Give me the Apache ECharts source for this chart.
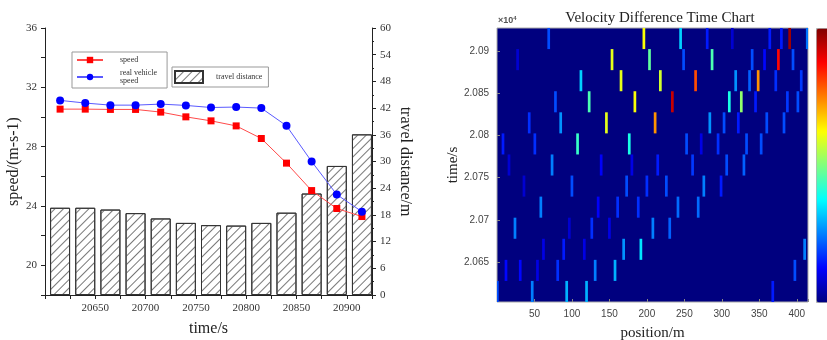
<!DOCTYPE html>
<html>
<head>
<meta charset="utf-8">
<title>Speed, travel distance and velocity difference</title>
<script src="https://cdn.jsdelivr.net/npm/echarts@6.0.0/dist/echarts.min.js"></script>
<style>
  html, body { margin: 0; padding: 0; background: #fff; }
  #chart { width: 827px; height: 340px; }
</style>
</head>
<body>
<div id="chart"></div>
<script>
// sample times (s), shared by both panels
const timePoints = [20615, 20640, 20665, 20690, 20715, 20740, 20765, 20790, 20815, 20840, 20865, 20890, 20915];

// left panel
const speed = [30.53, 30.53, 30.51, 30.51, 30.33, 30.01, 29.74, 29.40, 28.55, 26.89, 25.04, 23.83, 23.29];
const realVehicleSpeed = [31.12, 30.94, 30.80, 30.80, 30.87, 30.78, 30.64, 30.67, 30.60, 29.41, 27.00, 24.77, 23.62];
const travelDistance = [19.6, 19.6, 19.2, 18.4, 17.2, 16.2, 15.7, 15.6, 16.2, 18.5, 22.8, 29.0, 36.1];

// right panel: stripes per time row (same order as timePoints)
const stripePositions = [
  [0.5, 47, 93, 119.5, 368],
  [12, 31, 54, 81, 131, 157.5, 397.5],
  [62, 89, 116.5, 169, 192, 410.5],
  [24, 96.5, 126.5, 150, 208, 230.5],
  [58.5, 135, 161, 188.5, 241.5, 268.5],
  [36, 100, 173, 200, 226, 276, 299],
  [16, 73.5, 139, 180, 214.5, 261, 306.5, 329.5],
  [8, 50.5, 107.5, 176.5, 253, 272.5, 295, 333, 352.5],
  [43, 85, 146, 211, 284, 303, 322, 360, 383],
  [78, 123, 184, 234, 310, 326, 345, 387.5, 401.5],
  [112, 165.5, 218, 265, 318.5, 337, 348.5, 372, 406],
  [27.5, 153.5, 203.5, 249, 287, 340.5, 357, 375.5, 395],
  [69, 196, 245, 280.5, 314, 364, 379.5, 390.5, 414]
];
const stripeValues = [
  [0.2, 0.25, 0.3, 0.3, 0.15],
  [0.13, 0.13, 0.1, 0.17, 0.25, 0.3, 0.2],
  [0.1, 0.15, 0.1, 0.27, 0.35, 0.25],
  [0.25, 0.08, 0.17, 0.1, 0.25, 0.22],
  [0.25, 0.12, 0.17, 0.17, 0.23, 0.23],
  [0.08, 0.2, 0.2, 0.17, 0.2, 0.25, 0.15],
  [0.08, 0.25, 0.12, 0.1, 0.15, 0.18, 0.2, 0.22],
  [0.15, 0.17, 0.43, 0.4, 0.2, 0.1, 0.17, 0.2, 0.2],
  [0.17, 0.27, 0.6, 0.73, 0.27, 0.2, 0.15, 0.2, 0.2],
  [0.2, 0.45, 0.62, 0.93, 0.4, 0.52, 0.15, 0.18, 0.2],
  [0.33, 0.6, 0.58, 0.8, 0.27, 0.22, 0.73, 0.17, 0.18],
  [0.08, 0.6, 0.47, 0.2, 0.45, 0.2, 0.13, 0.87, 0.2],
  [0.2, 0.62, 0.33, 0.15, 0.08, 0.15, 0.15, 0.97, 0.24]
];
const heatTickValues = [20650, 20700, 20750, 20800, 20850, 20900];

const jet = ['#00007f', '#0000ff', '#007fff', '#00ffff', '#7fff7f', '#ffff00', '#ff7f00', '#ff0000', '#7f0000'];
const SERIF = 'Liberation Serif';
const SANS = 'Liberation Sans';
const CELL_W = 3.6;   // metres
const ROW_H = 25;     // seconds

const pairs = (ys) => timePoints.map((t, i) => [t, ys[i]]);

const cells = [];
stripePositions.forEach((row, r) => {
  row.forEach((pos, k) => {
    cells.push([pos, timePoints[r], stripeValues[r][k]]);
  });
});

const chart = echarts.init(document.getElementById('chart'));

const serifLabel = { fontFamily: SERIF, fontSize: 11, color: '#333' };
const blackLine = { lineStyle: { color: '#222', width: 1 } };

chart.setOption({
  animation: false,
  backgroundColor: '#fff',
  title: [
    {
      text: 'Velocity Difference Time Chart',
      left: 655,
      top: 6,
      textAlign: 'center',
      textStyle: { fontFamily: SERIF, fontSize: 15, fontWeight: 'normal', color: '#222' }
    },
    {
      text: '{a|×10}{b|4}',
      left: 493,
      top: 10,
      textStyle: {
        rich: {
          a: { fontFamily: SANS, fontSize: 9, color: '#555' },
          b: { fontFamily: SANS, fontSize: 6, color: '#555', padding: [0, 0, 6, 0] }
        }
      }
    }
  ],
  legend: [
    {
      orient: 'vertical',
      left: 72,
      top: 52,
      data: ['speed', 'real vehicle speed'],
      itemWidth: 26,
      itemHeight: 8,
      itemGap: 5,
      padding: [4, 10, 3, 4],
      borderColor: '#999',
      borderWidth: 1,
      formatter: (name) => (name === 'real vehicle speed' ? 'real vehicle\nspeed' : name),
      textStyle: { fontFamily: SERIF, fontSize: 8, color: '#333', padding: [0, 0, 0, 12] }
    },
    {
      left: 172,
      top: 67,
      data: [{ name: 'travel distance', icon: 'rect' }],
      itemWidth: 28,
      itemHeight: 12,
      padding: [3, 6, 3, 2],
      borderColor: '#999',
      borderWidth: 1,
      textStyle: { fontFamily: SERIF, fontSize: 8, color: '#333', padding: [0, 0, 0, 8] }
    }
  ],
  grid: [
    { left: 45, top: 28, width: 327, height: 267, outerBoundsMode: 'none' },
    {
      left: 497, top: 28, width: 311, height: 274, outerBoundsMode: 'none',
      show: true, backgroundColor: jet[0], borderColor: '#aaa', borderWidth: 1
    }
  ],
  xAxis: [
    {
      gridIndex: 0,
      type: 'value',
      min: 20600,
      max: 20925,
      interval: 25,
      axisLine: blackLine,
      axisTick: { length: 4, lineStyle: { color: '#222' } },
      splitLine: { show: false },
      axisLabel: Object.assign({
        formatter: (v) => (v % 50 === 0 && v !== 20600 ? String(v) : '')
      }, serifLabel),
      name: 'time/s',
      nameLocation: 'middle',
      nameGap: 26,
      nameTextStyle: { fontFamily: SERIF, fontSize: 16, color: '#222' }
    },
    {
      gridIndex: 1,
      type: 'value',
      min: 0,
      max: 415,
      interval: 50,
      axisLine: { show: false },
      axisTick: { inside: true, length: 3, lineStyle: { color: '#888' } },
      splitLine: { show: false },
      axisLabel: {
        fontFamily: SANS, fontSize: 10, color: '#444', margin: 7,
        formatter: (v) => (v % 50 === 0 && v !== 0 ? String(v) : '')
      },
      name: 'position/m',
      nameLocation: 'middle',
      nameGap: 24,
      nameTextStyle: { fontFamily: SERIF, fontSize: 15, color: '#222' }
    }
  ],
  yAxis: [
    {
      gridIndex: 0,
      type: 'value',
      min: 18,
      max: 36,
      interval: 2,
      axisLine: { show: true, lineStyle: { color: '#222' } },
      axisTick: { length: 4, lineStyle: { color: '#222' } },
      splitLine: { show: false },
      axisLabel: Object.assign({
        formatter: (v) => (v % 4 === 0 ? String(v) : '')
      }, serifLabel),
      name: 'speed/(m-s-1)',
      nameLocation: 'middle',
      nameGap: 22,
      nameTextStyle: { fontFamily: SERIF, fontSize: 16, color: '#222' }
    },
    {
      gridIndex: 0,
      type: 'value',
      position: 'right',
      min: 0,
      max: 60,
      interval: 6,
      axisLine: { show: true, lineStyle: { color: '#222' } },
      axisTick: { length: 4, lineStyle: { color: '#222' } },
      minorTick: { show: true, splitNumber: 2, length: 2, lineStyle: { color: '#222' } },
      splitLine: { show: false },
      axisLabel: serifLabel,
      name: 'travel distance/m',
      nameLocation: 'middle',
      nameRotate: -90,
      nameGap: 25,
      nameTextStyle: { fontFamily: SERIF, fontSize: 16, color: '#222' }
    },
    {
      gridIndex: 1,
      type: 'value',
      min: 20602.5,
      max: 20927.5,
      axisLine: { show: false },
      axisTick: { inside: true, length: 3, customValues: heatTickValues, lineStyle: { color: '#888' } },
      splitLine: { show: false },
      axisLabel: {
        customValues: heatTickValues,
        fontFamily: SANS, fontSize: 10, color: '#444', margin: 8,
        formatter: (v) => String(+(v / 10000).toFixed(3))
      },
      name: 'time/s',
      nameLocation: 'middle',
      nameGap: 34,
      nameTextStyle: { fontFamily: SERIF, fontSize: 15, color: '#222' }
    }
  ],
  visualMap: {
    type: 'continuous',
    seriesIndex: 3,
    dimension: 2,
    min: 0,
    max: 1,
    calculable: false,
    hoverLink: false,
    left: 816,
    top: 28,
    itemWidth: 20,
    itemHeight: 274,
    padding: 0,
    borderColor: '#aaa',
    borderWidth: 1,
    inRange: { color: jet }
  },
  series: [
    {
      name: 'travel distance',
      type: 'bar',
      xAxisIndex: 0,
      yAxisIndex: 1,
      barWidth: 20,
      data: pairs(travelDistance),
      itemStyle: {
        color: '#fff',
        borderColor: '#333',
        borderWidth: 1,
        decal: {
          symbol: 'rect',
          symbolSize: 1,
          dashArrayX: [1, 0],
          dashArrayY: [1, 5],
          rotation: -Math.PI / 4,
          color: '#777'
        }
      },
      z: 1
    },
    {
      name: 'speed',
      type: 'line',
      xAxisIndex: 0,
      yAxisIndex: 0,
      data: pairs(speed),
      symbol: 'rect',
      symbolSize: 7,
      lineStyle: { color: '#ff4a4a', width: 1 },
      itemStyle: { color: '#ff0000' },
      z: 3
    },
    {
      name: 'real vehicle speed',
      type: 'line',
      xAxisIndex: 0,
      yAxisIndex: 0,
      data: pairs(realVehicleSpeed),
      symbol: 'circle',
      symbolSize: 8,
      lineStyle: { color: '#5a5aff', width: 1 },
      itemStyle: { color: '#0000ff' },
      z: 4
    },
    {
      name: 'velocity difference',
      type: 'custom',
      xAxisIndex: 1,
      yAxisIndex: 2,
      data: cells,
      encode: { x: 0, y: 1 },
      renderItem: (params, api) => {
        const x = api.value(0);
        const t = api.value(1);
        const p0 = api.coord([x - CELL_W / 2, t + ROW_H / 2]);
        const p1 = api.coord([x + CELL_W / 2, t - ROW_H / 2]);
        const rect = echarts.graphic.clipRectByRect(
          { x: p0[0], y: p0[1], width: p1[0] - p0[0], height: p1[1] - p0[1] },
          params.coordSys
        );
        return rect && {
          type: 'rect',
          shape: rect,
          style: { fill: api.visual('color') }
        };
      }
    }
  ]
});
</script>
</body>
</html>
